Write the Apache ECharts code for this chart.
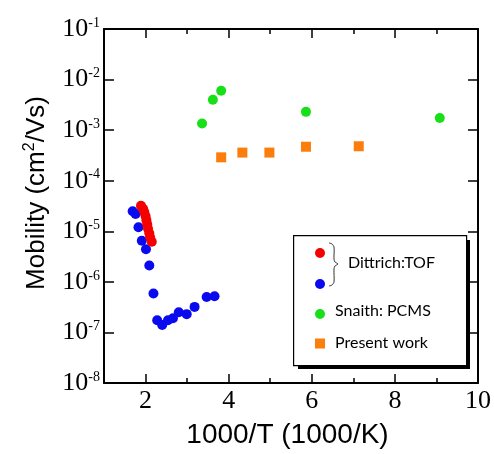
<!DOCTYPE html>
<html><head><meta charset="utf-8">
<script src="https://cdn.jsdelivr.net/npm/echarts@6/dist/echarts.min.js"></script>
<style>html,body{margin:0;padding:0;background:#fff}#c{width:494px;height:454px}</style>
</head><body><div id="c"></div>
<script>
// ---- data ----
const dittrichBlueX = [1.69,1.76,1.83,1.91,2.01,2.09,2.19,2.28,2.40,2.54,2.66,2.80,2.99,3.18,3.47,3.66];
const dittrichBlueY = [2.5e-5,2.2e-5,1.2e-5,6.5e-6,4.4e-6,2.1e-6,5.9e-7,1.74e-7,1.41e-7,1.74e-7,1.9e-7,2.5e-7,2.3e-7,3.2e-7,5.0e-7,5.2e-7];
const dittrichRedX = [1.89,1.94,1.97,2.00,2.02,2.04,2.06,2.09,2.11,2.15];
const dittrichRedY = [3.2e-5,2.8e-5,2.4e-5,2.0e-5,1.66e-5,1.38e-5,1.12e-5,9.1e-6,7.6e-6,6.2e-6];
const snaithX = [3.36,3.62,3.82,5.86,9.08];
const snaithY = [1.35e-3,4.0e-3,6.0e-3,2.3e-3,1.74e-3];
const presentX = [3.82,4.33,4.98,5.86,7.13];
const presentY = [2.9e-4,3.6e-4,3.6e-4,4.7e-4,4.8e-4];
const xLabelTicks = [2,4,6,8,10];
const xMajorTicks = [2,4,6,8];
const xMinorTicks = [3,5,7,9];
const yExponents = [-8,-7,-6,-5,-4,-3,-2,-1];
const legendLabels = ['Dittrich:TOF','Snaith: PCMS','Present work'];
const xTitle = '1000/T (1000/K)';

const zip = (xs, ys) => xs.map((x, i) => [x, ys[i]]);
const black = '#000';
const serif = 'Liberation Serif';
const sans = 'Liberation Sans';
const legendFont = '16px Lato';

function xAx(pos, ticks, len, showLine, showLabel, name) {
  return {
    type: 'value', min: 1, max: 10, position: pos,
    axisLine: {show: showLine, onZero: false, lineStyle: {color: black, width: 2}},
    axisTick: {show: true, inside: true, length: len, customValues: ticks, lineStyle: {color: black, width: 1.5}},
    axisLabel: showLabel ? {show: true, customValues: xLabelTicks, color: black, fontFamily: serif, fontSize: 26, margin: 5} : {show: false},
    splitLine: {show: false},
    name: name || '', nameLocation: 'middle', nameGap: 38,
    nameTextStyle: {color: black, fontFamily: sans, fontSize: 28, padding: [0, 7, 0, 0]}
  };
}
function yAx(pos, showLabel, name) {
  return {
    type: 'log', logBase: 10, min: Math.pow(10, yExponents[0]), max: Math.pow(10, yExponents[yExponents.length-1]),
    interval: 1, position: pos,
    axisLine: {show: true, onZero: false, lineStyle: {color: black, width: 2}},
    axisTick: {show: true, inside: true, length: 10, lineStyle: {color: black, width: 1.5}},
    axisLabel: showLabel ? {
      show: true, margin: 4,
      formatter: v => '{b|10}{s|' + Math.round(Math.log10(v)) + '}',
      rich: {
        b: {fontFamily: serif, fontSize: 26, color: black, lineHeight: 26},
        s: {fontFamily: serif, fontSize: 14, color: black, lineHeight: 14, verticalAlign: 'top'}
      }
    } : {show: false},
    splitLine: {show: false},
    name: name || '', nameLocation: 'middle', nameGap: 52, nameRotate: 90,
    nameTextStyle: {
      padding: [0, 0, 0, 26],
      rich: {
        a: {fontFamily: sans, fontSize: 26, color: black, lineHeight: 30},
        s: {fontFamily: sans, fontSize: 16, color: black, lineHeight: 16, verticalAlign: 'top'}
      }
    }
  };
}

const chart = echarts.init(document.getElementById('c'), null, {renderer: 'canvas'});
const lx = 320;
chart.setOption({
  backgroundColor: '#fff',
  animation: false,
  grid: {left: 104, right: 14, top: 29, bottom: 69, containLabel: false},
  xAxis: [
    xAx('bottom', xMajorTicks, 9, true, true, xTitle),
    xAx('bottom', xMinorTicks, 5, false, false),
    xAx('top', xMajorTicks, 9, true, false),
    xAx('top', xMinorTicks, 5, false, false)
  ],
  yAxis: [
    yAx('left', true, '{a|Mobility (cm}{s|2}{a|/Vs)}'),
    yAx('right', false)
  ],
  series: [
    {type: 'scatter', xAxisIndex: 0, yAxisIndex: 0, data: zip(dittrichBlueX, dittrichBlueY), symbol: 'circle', symbolSize: 10, itemStyle: {color: '#0a0aee', opacity: 1}},
    {type: 'scatter', xAxisIndex: 0, yAxisIndex: 0, data: zip(dittrichRedX, dittrichRedY), symbol: 'circle', symbolSize: 10, itemStyle: {color: '#f50000', opacity: 1}},
    {type: 'scatter', xAxisIndex: 0, yAxisIndex: 0, data: zip(snaithX, snaithY), symbol: 'circle', symbolSize: 10, itemStyle: {color: '#18e018', opacity: 1}},
    {type: 'scatter', xAxisIndex: 0, yAxisIndex: 0, data: zip(presentX, presentY), symbol: 'rect', symbolSize: 10, itemStyle: {color: '#fb7d0c', opacity: 1}}
  ],
  graphic: [
    {type: 'rect', id: 'legShadow', z: 99, left: 298, top: 240, shape: {width: 172, height: 129}, style: {fill: '#000'}},
    {type: 'rect', id: 'legBox', z: 100, left: 293, top: 235, shape: {width: 173, height: 130}, style: {fill: '#fff', stroke: black, lineWidth: 1.2}},
    {type: 'circle', z: 101, shape: {cx: lx, cy: 253, r: 5}, style: {fill: '#f50000'}},
    {type: 'circle', z: 101, shape: {cx: lx, cy: 284, r: 5}, style: {fill: '#0a0aee'}},
    {type: 'circle', z: 101, shape: {cx: lx, cy: 314, r: 5}, style: {fill: '#18e018'}},
    {type: 'rect', z: 101, shape: {x: lx - 5, y: 338.5, width: 10, height: 10}, style: {fill: '#fb7d0c'}},
    {type: 'polyline', z: 101, shape: {points: [[329,243],[332,244],[334,247],[334,259],[335,262],[338,264],[335,266],[334,269],[334,282],[332,285],[329,286]], smooth: 0.3}, style: {stroke: '#333', lineWidth: 1, fill: null}},
    {type: 'text', z: 101, x: 348, y: 263, style: {text: legendLabels[0], font: legendFont, fill: '#000', verticalAlign: 'middle'}},
    {type: 'text', z: 101, x: 335, y: 311, style: {text: legendLabels[1], font: legendFont, fill: '#000', verticalAlign: 'middle'}},
    {type: 'text', z: 101, x: 335, y: 343, style: {text: legendLabels[2], font: legendFont, fill: '#000', verticalAlign: 'middle'}}
  ]
});
</script>
</body></html>
